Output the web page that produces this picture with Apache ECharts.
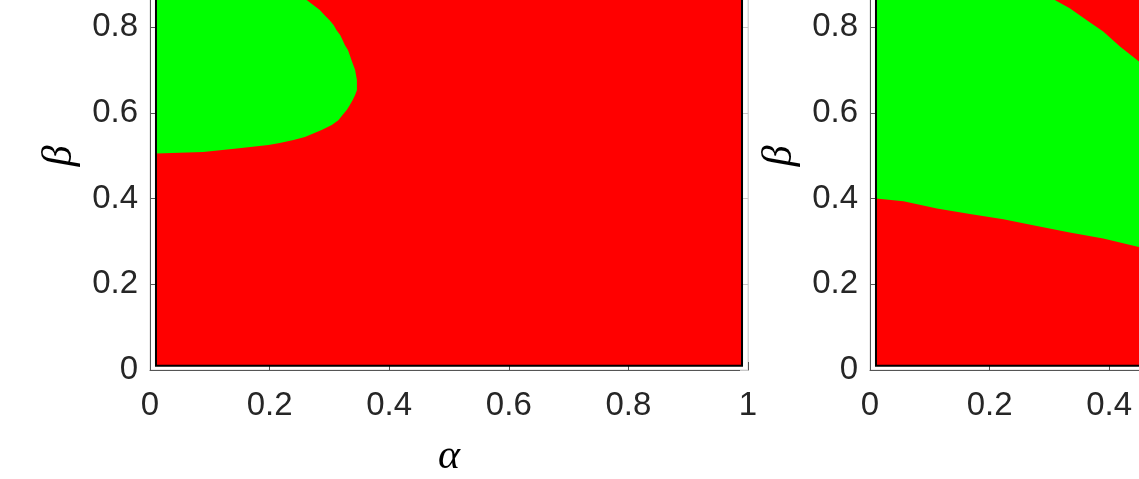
<!DOCTYPE html>
<html><head><meta charset="utf-8">
<script src="https://cdn.jsdelivr.net/npm/echarts@6/dist/echarts.min.js"></script>
<style>html,body{margin:0;padding:0;background:#fff}#c{width:1139px;height:479px}</style>
</head><body><div id="c"></div>
<script>
// axis ticks
const alphaTicks = [0, 0.2, 0.4, 0.6, 0.8, 1];
const betaTicks = [0, 0.2, 0.4, 0.6, 0.8, 1];
// extent of the computed (alpha, beta) image
const imageExtent = [0.01, 0.99];

// Panel 1: boundary of the green region (traced from bottom-left, round the nose, to the top)
const leftAlpha = [0.01, 0.089, 0.145, 0.198, 0.217, 0.240, 0.259, 0.273, 0.287, 0.304, 0.315, 0.322, 0.329, 0.334, 0.339, 0.343, 0.346, 0.346, 0.343, 0.337, 0.334, 0.331, 0.326, 0.322, 0.318, 0.312, 0.307, 0.300, 0.292, 0.284, 0.273, 0.262, 0.15, 0.01];
const leftBeta  = [0.505, 0.509, 0.517, 0.525, 0.530, 0.537, 0.544, 0.552, 0.560, 0.572, 0.583, 0.595, 0.607, 0.618, 0.630, 0.642, 0.653, 0.677, 0.700, 0.723, 0.735, 0.747, 0.758, 0.770, 0.782, 0.793, 0.805, 0.817, 0.828, 0.840, 0.852, 0.8635, 0.99, 0.99];

// Panel 2: lower boundary of the green band
const rightLowerAlpha = [0.01, 0.056, 0.112, 0.167, 0.223, 0.279, 0.334, 0.390, 0.446, 0.50];
const rightLowerBeta  = [0.400, 0.394, 0.377, 0.364, 0.352, 0.336, 0.321, 0.307, 0.288, 0.276];
// Panel 2: upper boundary of the green band (red corner at top right)
const rightUpperAlpha = [0.25, 0.309, 0.334, 0.362, 0.390, 0.418, 0.450, 0.50];
const rightUpperBeta  = [0.99, 0.8635, 0.844, 0.817, 0.790, 0.755, 0.720, 0.68];

const RED = '#ff0000', GREEN = '#00ff00';

function leftPolygon() {
  return leftAlpha.map((a, i) => [a, leftBeta[i]]);
}
function rightPolygon() {
  const pts = rightLowerAlpha.map((a, i) => [a, rightLowerBeta[i]]);
  for (let i = rightUpperAlpha.length - 1; i >= 0; i--) pts.push([rightUpperAlpha[i], rightUpperBeta[i]]);
  pts.push([imageExtent[0], imageExtent[1]]);
  return pts;
}

function panelSeries(idx, polyFn) {
  return {
    type: 'custom', xAxisIndex: idx, yAxisIndex: idx * 2, z: 5,
    data: [[imageExtent[0], imageExtent[0], imageExtent[1], imageExtent[1]]],
    renderItem: function (params, api) {
      const p0 = api.coord([api.value(0), api.value(3)]);
      const p1 = api.coord([api.value(2), api.value(1)]);
      const shape = { x: p0[0], y: p0[1], width: p1[0] - p0[0], height: p1[1] - p0[1] };
      const poly = polyFn().map(p => api.coord(p));
      return {
        type: 'group',
        children: [
          { type: 'rect', shape: shape, style: { fill: RED } },
          { type: 'polygon', shape: { points: poly }, style: { fill: GREEN } },
          { type: 'rect', shape: shape, style: { fill: null, stroke: '#000', lineWidth: 2 } }
        ]
      };
    }
  };
}

const labelFont = { fontFamily: 'Liberation Sans', fontSize: 33, color: '#262626' };
const nameFont = { fontFamily: 'Liberation Serif', fontStyle: 'italic', fontSize: 42, color: '#000' };

function xAxis(gi) {
  return {
    type: 'value', gridIndex: gi, min: 0, max: 1, interval: 0.2,
    name: 'α', nameLocation: 'middle', nameGap: 66, nameTextStyle: nameFont,
    axisLine: { show: true, onZero: false, lineStyle: { color: '#555', width: 1 } },
    axisTick: { show: true, inside: true, length: 8, lineStyle: { color: '#555' } },
    axisLabel: Object.assign({ margin: 19, formatter: v => String(Math.round(v * 10) / 10) }, labelFont),
    splitLine: { show: false }
  };
}
function yAxisLeft(gi) {
  return {
    type: 'value', gridIndex: gi, min: 0, max: 1, interval: 0.2, position: 'left',
    name: 'β', nameLocation: 'middle', nameGap: 60, nameTextStyle: nameFont,
    axisLine: { show: true, onZero: false, lineStyle: { color: '#555', width: 1 } },
    axisTick: { show: true, inside: true, length: 8, lineStyle: { color: '#555' } },
    axisLabel: Object.assign({ margin: 12, formatter: v => String(Math.round(v * 10) / 10) }, labelFont),
    splitLine: { show: false }
  };
}
function yAxisRight(gi) {
  return {
    type: 'value', gridIndex: gi, min: 0, max: 1, interval: 0.2, position: 'right',
    axisLine: { show: true, onZero: false, lineStyle: { color: '#d6d6d6', width: 1 } },
    axisTick: { show: true, inside: true, length: 8, lineStyle: { color: '#c8c8c8' } },
    axisLabel: { show: false }, splitLine: { show: false }
  };
}

const chart = echarts.init(document.getElementById('c'), null, { renderer: 'canvas' });
chart.setOption({
  animation: false,
  backgroundColor: '#fff',
  grid: [
    { left: 150, top: -58.5, width: 598, height: 428.5, outerBoundsMode: 'none', containLabel: false,
      show: true, borderColor: '#d6d6d6', borderWidth: 1, backgroundColor: 'transparent' },
    { left: 870, top: -58.5, width: 598, height: 428.5, outerBoundsMode: 'none', containLabel: false,
      show: true, borderColor: '#d6d6d6', borderWidth: 1, backgroundColor: 'transparent' }
  ],
  xAxis: [xAxis(0), xAxis(1)],
  yAxis: [yAxisLeft(0), yAxisRight(0), yAxisLeft(1), yAxisRight(1)],
  series: [panelSeries(0, leftPolygon), panelSeries(1, rightPolygon)]
});
</script></body></html>
